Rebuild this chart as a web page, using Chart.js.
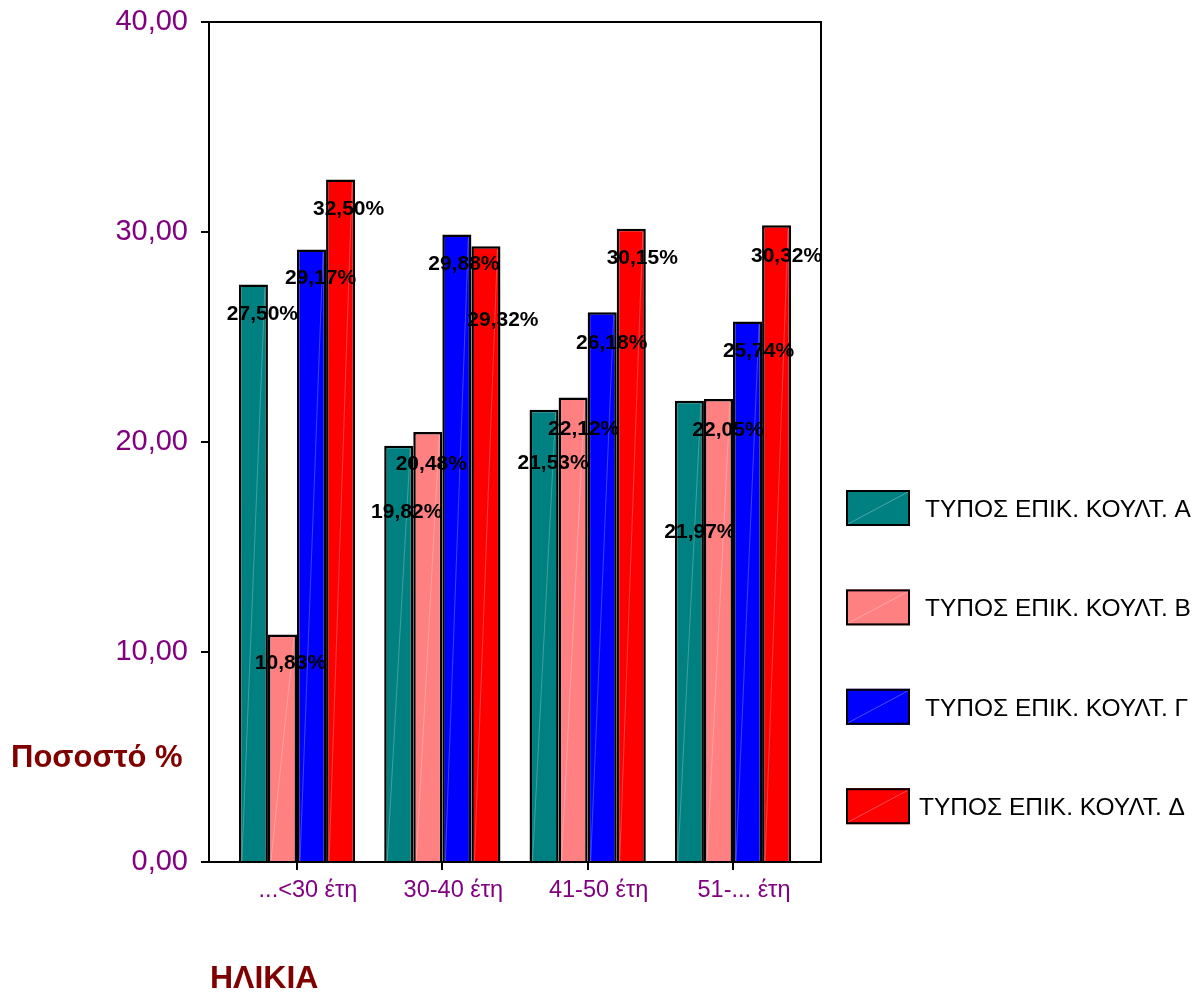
<!DOCTYPE html>
<html>
<head>
<meta charset="utf-8">
<script src="https://cdn.jsdelivr.net/npm/chart.js@4.4.1/dist/chart.umd.min.js"></script>
<style>
  body { margin: 0; background: #fff; }
  #wrap { width: 1204px; height: 996px; }
</style>
</head>
<body>
<div id="wrap"><canvas id="myChart" width="1204" height="996"></canvas></div>
<script>
const ageGroups = ["...<30 έτη", "30-40 έτη", "41-50 έτη", "51-... έτη"];
const seriesNames = ["ΤΥΠΟΣ ΕΠΙΚ. ΚΟΥΛΤ. Α", "ΤΥΠΟΣ ΕΠΙΚ. ΚΟΥΛΤ. Β", "ΤΥΠΟΣ ΕΠΙΚ. ΚΟΥΛΤ. Γ", "ΤΥΠΟΣ ΕΠΙΚ. ΚΟΥΛΤ. Δ"];
const typeA = [27.50, 19.82, 21.53, 21.97];
const typeB = [10.83, 20.48, 22.12, 22.05];
const typeG = [29.17, 29.88, 26.18, 25.74];
const typeD = [32.50, 29.32, 30.15, 30.32];
const yTicks = [0, 10, 20, 30, 40];

const colors = ["#008080", "#FF8080", "#0000FF", "#FF0000"];
// pixel nudges for the value labels (x, y from bar top)
const labelDx = [[9, 8, 9, 10.5], [8, 3.5, 10.5, 9.5], [9, 7, 9.5, 11], [8, 17, 11, 10]];
const labelDy = [[29.5, 66, 53, 132], [28.5, 32, 31.5, 31.7], [28.6, 29.5, 30.5, 30], [29.5, 74, 29, 30.7]];

const fmt = (v) => v.toFixed(2).replace(".", ",");

Chart.defaults.font.family = "Arial, 'Liberation Sans', sans-serif";

const allSeries = [typeA, typeB, typeG, typeD];

const datasets = allSeries.map((vals, s) => ({
  label: seriesNames[s],
  data: vals.map((v, i) => ({ x: i, y: v })),
  backgroundColor: colors[s],
  borderColor: "#000",
  borderWidth: 2.5,
  categoryPercentage: 0.8,
  barPercentage: 1.0,
}));

// frame, diagonal sheen, value labels, legend and titles
const extras = {
  id: "extras",
  beforeDatasetsDraw(chart) {
    const { ctx, chartArea: a } = chart;
    ctx.save();
    ctx.strokeStyle = "#000";
    ctx.lineWidth = 2;
    ctx.beginPath();
    ctx.moveTo(a.left - 8, a.top);
    ctx.lineTo(a.right, a.top);
    ctx.lineTo(a.right, a.bottom);
    ctx.stroke();
    ctx.restore();
  },
  afterDatasetsDraw(chart) {
    const { ctx } = chart;
    ctx.save();
    // faint diagonal line in every bar
    chart.data.datasets.forEach((ds, s) => {
      chart.getDatasetMeta(s).data.forEach((bar) => {
        const p = bar.getProps(["x", "y", "base", "width"], true);
        ctx.strokeStyle = "rgba(255,255,255,0.25)";
        ctx.lineWidth = 1;
        ctx.beginPath();
        ctx.moveTo(p.x - p.width / 2 + 3, p.base);
        ctx.lineTo(p.x + p.width / 2 - 3, p.y + 3);
        ctx.stroke();
      });
    });
    ctx.font = "bold 21px Arial, 'Liberation Sans', sans-serif";
    ctx.fillStyle = "#000";
    ctx.textAlign = "center";
    ctx.textBaseline = "middle";
    chart.data.datasets.forEach((ds, s) => {
      chart.getDatasetMeta(s).data.forEach((bar, i) => {
        const v = allSeries[s][i];
        ctx.fillText(fmt(v) + "%", bar.x + labelDx[s][i], bar.y + labelDy[s][i]);
      });
    });
    ctx.restore();
  },
  afterDraw(chart) {
    const { ctx } = chart;
    ctx.save();
    // legend
    seriesNames.forEach((name, s) => {
      const y = 490 + s * 99.4;
      ctx.fillStyle = colors[s];
      ctx.fillRect(846, y, 64, 36);
      ctx.strokeStyle = "rgba(255,255,255,0.3)";
      ctx.lineWidth = 1;
      ctx.beginPath();
      ctx.moveTo(848, y + 34);
      ctx.lineTo(908, y + 2);
      ctx.stroke();
      ctx.strokeStyle = "#000";
      ctx.lineWidth = 2;
      ctx.strokeRect(847, y + 1, 62, 34);
      ctx.fillStyle = "#000";
      ctx.font = "24.5px Arial, 'Liberation Sans', sans-serif";
      ctx.textAlign = "left";
      ctx.textBaseline = "middle";
      ctx.fillText(name, s === 3 ? 919 : 925, y + 20);
    });
    // axis titles
    ctx.fillStyle = "#800000";
    ctx.font = "bold 31px Arial, 'Liberation Sans', sans-serif";
    ctx.textBaseline = "middle";
    ctx.fillText("Ποσοστό %", 11, 758);
    ctx.font = "bold 32px Arial, 'Liberation Sans', sans-serif";
    ctx.fillText("ΗΛΙΚΙΑ", 210, 979);
    ctx.restore();
  },
};

const ctx = document.getElementById("myChart");

new Chart(ctx, {
  type: "bar",
  data: { datasets: datasets },
  options: {
    responsive: false,
    animation: false,
    layout: { padding: { top: 22, right: 383, left: 0, bottom: 0 } },
    plugins: {
      legend: { display: false },
      tooltip: { enabled: false },
    },
    scales: {
      x: {
        type: "linear",
        offset: false,
        min: -0.6055,
        max: 3.6055,
        afterBuildTicks: (axis) => {
          axis.ticks = ageGroups.map((_, i) => ({ value: i }));
        },
        afterFit: (axis) => {
          axis.height = 134;
          axis.paddingLeft = 0;
          axis.paddingRight = 0;
        },
        grid: {
          offset: false,
          drawOnChartArea: false,
          drawTicks: true,
          tickLength: 8,
          color: "#000",
          lineWidth: 2,
        },
        border: { color: "#000", width: 2 },
        ticks: {
          autoSkip: false,
          maxRotation: 0,
          labelOffset: 11,
          padding: 6,
          color: "#800080",
          font: { size: 23.5 },
          callback: (v) => ageGroups[v],
        },
      },
      y: {
        min: 0,
        max: 40,
        afterBuildTicks: (axis) => {
          axis.ticks = yTicks.map((v) => ({ value: v }));
        },
        afterFit: (axis) => {
          axis.width = 209;
          axis.paddingTop = 0;
          axis.paddingBottom = 0;
        },
        grid: {
          drawOnChartArea: false,
          drawTicks: true,
          tickLength: 8,
          color: "#000",
          lineWidth: 2,
        },
        border: { color: "#000", width: 2 },
        ticks: {
          padding: 13,
          color: "#800080",
          font: { size: 29 },
          callback: (v) => fmt(v),
        },
      },
    },
  },
  plugins: [extras],
});
</script>
</body>
</html>
